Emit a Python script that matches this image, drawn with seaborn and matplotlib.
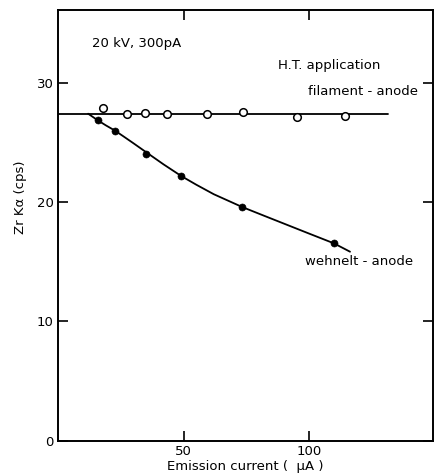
import numpy as np
import pandas as pd
import matplotlib
matplotlib.use('Agg')
import matplotlib.pyplot as plt
import seaborn as sns

sns.set_theme(style='ticks')
plt.rcParams['font.family'] = ['DejaVu Sans']
plt.rcParams['text.color'] = 'black'
plt.rcParams['axes.labelcolor'] = 'black'

# filament - anode (open circles)
fil_x = [17.8, 27.5, 34.5, 43.4, 59.2, 73.7, 95.1, 114.1]
fil_y = [27.84, 27.39, 27.47, 27.36, 27.39, 27.51, 27.09, 27.2]
fil_line_x = [0, 131.4]
fil_line_y = [27.39, 27.39]

# wehnelt - anode (filled circles)
weh_x = [15.8, 22.7, 35.0, 49.0, 73.3, 109.8]
weh_y = [26.84, 25.97, 23.99, 22.18, 19.58, 16.54]
# hand-drawn curve
weh_curve_x = [12.0, 14.0, 15.8, 19.0, 22.7, 26.0, 30.0, 35.0, 42.0, 49.0,
               55.0, 62.0, 73.3, 82.0, 91.0, 100.0, 109.8, 116.2]
weh_curve_y = [27.39, 27.10, 26.84, 26.42, 25.97, 25.50, 24.92, 24.18, 23.15, 22.18,
               21.45, 20.65, 19.58, 18.85, 18.10, 17.35, 16.54, 15.84]

fig = plt.figure(figsize=(4.35, 4.75), dpi=100)
ax = fig.add_axes([0.1333, 0.0716, 0.862, 0.9074])

sns.lineplot(x=fil_line_x, y=fil_line_y, ax=ax, color='black', lw=1.3)
sns.lineplot(x=weh_curve_x, y=weh_curve_y, ax=ax, color='black', lw=1.3, sort=False)
sns.scatterplot(x=fil_x, y=fil_y, ax=ax, marker='o', s=30, facecolor='white',
                edgecolor='black', linewidth=1.1, zorder=3)
sns.scatterplot(x=weh_x, y=weh_y, ax=ax, marker='o', s=26, color='black',
                edgecolor='black', zorder=3)

ax.set_xlim(0, 149.2)
ax.set_ylim(0, 36.07)
ax.set_xticks([50, 100])
ax.set_yticks([0, 10, 20, 30])
ax.tick_params(direction='in', length=7, width=1.2, top=True, right=True,
               labelsize=9.5, colors='black', pad=3)
for sp in ax.spines.values():
    sp.set_linewidth(1.4)
    sp.set_color('black')

ax.set_xlabel('Emission current (  μA )', fontsize=9.5, labelpad=1.5)
ax.set_ylabel('Zr Kα (cps)', fontsize=9.5)
ax.yaxis.set_label_coords(-0.083, 0.566)

ax.text(13.4, 33.3, '20 kV, 300pA', fontsize=9.5, va='center', ha='left')
ax.text(87.7, 31.46, 'H.T. application', fontsize=9.5, va='center', ha='left')
ax.text(99.6, 29.23, 'filament - anode', fontsize=9.5, va='center', ha='left')
ax.text(98.3, 15.0, 'wehnelt - anode', fontsize=9.5, va='center', ha='left')

fig.savefig('out.png', dpi=100)
